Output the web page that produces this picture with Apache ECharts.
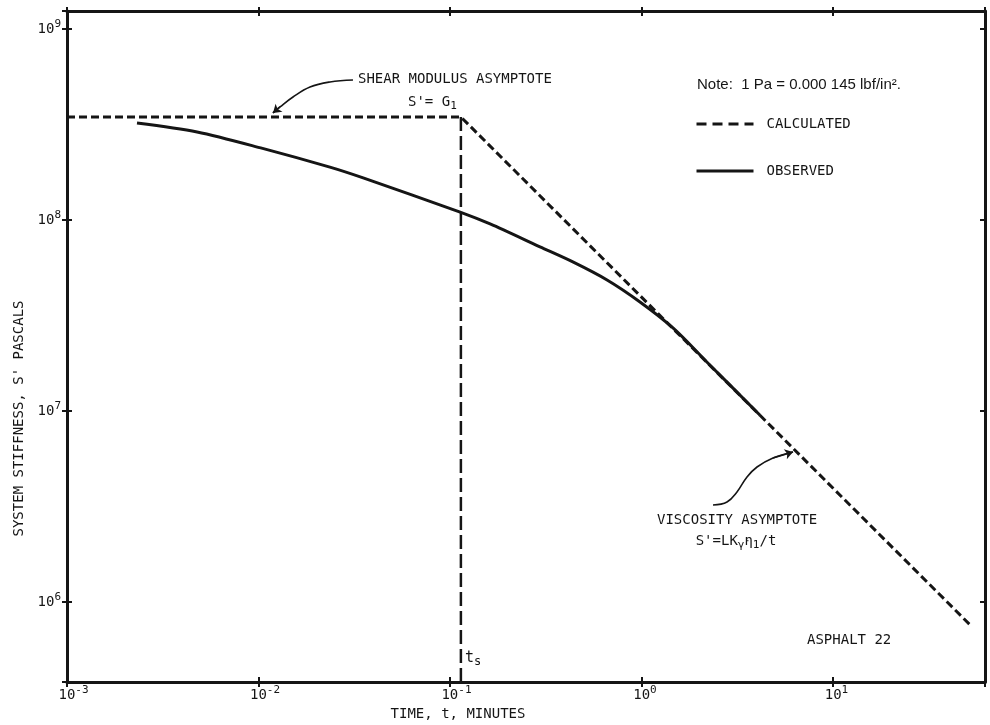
<!DOCTYPE html>
<html><head><meta charset="utf-8">
<script src="https://cdn.jsdelivr.net/npm/echarts@6/dist/echarts.min.js"></script>
<style>html,body{margin:0;padding:0;background:#fff}#c{width:990px;height:725px}</style>
</head><body><div id="c"></div>
<script>
// ---- data ----
const obsTime = [0.00232, 0.00478, 0.0105, 0.0236, 0.0352, 0.113, 0.162, 0.295, 0.438, 0.661, 0.982, 1.46, 2.2, 4.16];
const obsStiff = [3.22e8, 2.89e8, 2.37e8, 1.89e8, 1.66e8, 1.10e8, 9.53e7, 7.23e7, 6.03e7, 4.85e7, 3.72e7, 2.72e7, 1.8e7, 9.5e6];
const calcTime = [0.001, 0.114, 51.9];
const calcStiff = [3.462e8, 3.462e8, 7.6e5];
const tsTime = [0.114, 0.114];
const tsStiff = [3.81e5, 3.462e8];
const shearArrowTime = [0.03114, 0.02362, 0.01857, 0.01514, 0.01295, 0.01190];
const shearArrowStiff = [5.408e8, 5.279e8, 4.970e8, 4.406e8, 3.905e8, 3.633e8];
const viscArrowTime = [2.363, 2.796, 3.153, 3.556, 4.011, 4.860, 6.181];
const viscArrowStiff = [3.220e6, 3.339e6, 3.767e6, 4.513e6, 5.090e6, 5.675e6, 6.100e6];
const xTickExps = [-3, -2, -1, 0, 1];
const yTickExps = [6, 7, 8, 9];
const xRange = [0.001, 62.2];
const yRange = [3.81e5, 1.242e9];

const MONO = '"DejaVu Sans Mono", monospace';
const SANS = '"Liberation Sans", Arial, sans-serif';
const INK = '#151515';

const zip = (a, b) => a.map((v, i) => [v, b[i]]);
function decadeExp(v) {
  const e = Math.log10(v), r = Math.round(e);
  return Math.abs(e - r) < 0.02 ? r : null;
}
const xLabelFmt = v => {
  const n = decadeExp(v);
  if (n === null || xTickExps.indexOf(n) < 0) return '';
  const s = String(n);
  return '{b' + s.length + '|10}{s|' + s + '}';
};
const yLabelFmt = v => {
  const n = decadeExp(v);
  if (n === null || yTickExps.indexOf(n) < 0) return '';
  return '{b|10}{s|' + n + '}';
};
const supRich = {
  b: { fontFamily: MONO, fontSize: 14, lineHeight: 20, color: INK },
  b1: { fontFamily: MONO, fontSize: 14, lineHeight: 20, color: INK, padding: [0, 0, 0, 7] },
  b2: { fontFamily: MONO, fontSize: 14, lineHeight: 20, color: INK, padding: [0, 0, 0, 13] },
  s: { fontFamily: MONO, fontSize: 11, lineHeight: 11, verticalAlign: 'top', color: INK }
};

function logAxis(range, extra) {
  return Object.assign({
    type: 'log', logBase: 10, min: range[0], max: range[1],
    splitLine: { show: false }, minorTick: { show: false },
    axisLine: { show: true, lineStyle: { color: INK, width: 3 } },
    axisTick: { show: true, inside: true, length: 5, lineStyle: { color: INK, width: 2 } },
    axisLabel: { show: false }
  }, extra);
}

const chart = echarts.init(document.getElementById('c'), null, { renderer: 'canvas' });
chart.setOption({
  animation: false,
  backgroundColor: '#ffffff',
  grid: { left: 67, right: 5, top: 11, bottom: 43, containLabel: false, outerBoundsMode: 'none' },
  legend: {
    orient: 'vertical', left: 695, top: 117, padding: 0, itemWidth: 57, itemHeight: 14, itemGap: 33,
    textStyle: { fontFamily: MONO, fontSize: 14, color: INK, padding: [0, 0, 0, 8] },
    itemStyle: { opacity: 0 },
    data: [
      { name: 'CALCULATED', lineStyle: { type: [10, 6], width: 3, color: INK } },
      { name: 'OBSERVED', lineStyle: { width: 3, color: INK } }
    ],
    selectedMode: false
  },
  xAxis: [
    logAxis(xRange, {
      position: 'bottom',
      axisTick: { show: true, inside: false, length: 5, lineStyle: { color: INK, width: 2 } },
      axisLabel: { show: true, formatter: xLabelFmt, rich: supRich, margin: 3, color: INK },
      name: 'TIME, t, MINUTES', nameLocation: 'middle', nameGap: 25,
      nameTextStyle: { fontFamily: MONO, fontSize: 14, color: INK, padding: [0, 136, 0, 0] }
    }),
    logAxis(xRange, { position: 'bottom', axisLine: { show: false } }),
    logAxis(xRange, { position: 'top' }),
    logAxis(xRange, { position: 'top', axisLine: { show: false }, axisTick: { show: true, inside: false, length: 4, lineStyle: { color: INK, width: 2 } } })
  ],
  yAxis: [
    logAxis(yRange, {
      position: 'left',
      axisTick: { show: true, inside: false, length: 5, lineStyle: { color: INK, width: 2 } },
      axisLabel: { show: true, formatter: yLabelFmt, rich: supRich, margin: 6, color: INK },
      name: "SYSTEM STIFFNESS, S' PASCALS", nameLocation: 'middle', nameGap: 39,
      nameTextStyle: { fontFamily: MONO, fontSize: 14, color: INK, padding: [0, 144, 0, 0] }
    }),
    logAxis(yRange, { position: 'left', axisLine: { show: false } }),
    logAxis(yRange, { position: 'right' })
  ],
  series: [
    {
      name: 'CALCULATED', type: 'line', xAxisIndex: 0, yAxisIndex: 0,
      data: zip(calcTime, calcStiff), symbol: 'none', silent: true,
      itemStyle: { color: INK },
      lineStyle: { color: INK, width: 3, type: [8, 4] }
    },
    {
      name: 'OBSERVED', type: 'line', xAxisIndex: 0, yAxisIndex: 0,
      data: zip(obsTime, obsStiff), symbol: 'none', smooth: 0.3, silent: true,
      itemStyle: { color: INK },
      lineStyle: { color: INK, width: 3 }
    },
    {
      name: 'ts', type: 'line', xAxisIndex: 0, yAxisIndex: 0,
      data: zip(tsTime, tsStiff), symbol: 'none', silent: true,
      itemStyle: { color: INK },
      lineStyle: { color: INK, width: 2.5, type: [14, 5] }
    },
    {
      name: 'shearArrow', type: 'line', xAxisIndex: 0, yAxisIndex: 0,
      data: zip(shearArrowTime, shearArrowStiff), symbol: 'none', smooth: 0.4, silent: true,
      itemStyle: { color: INK },
      lineStyle: { color: INK, width: 1.6 },
      markLine: {
        silent: true, symbol: ['none', 'arrow'], symbolSize: 8, label: { show: false },
        itemStyle: { color: INK },
        lineStyle: { color: INK, width: 1.6, type: 'solid' },
        data: [[{ coord: [shearArrowTime[4], shearArrowStiff[4]] }, { coord: [shearArrowTime[5], shearArrowStiff[5]] }]]
      }
    },
    {
      name: 'viscArrow', type: 'line', xAxisIndex: 0, yAxisIndex: 0,
      data: zip(viscArrowTime, viscArrowStiff), symbol: 'none', smooth: 0.4, silent: true,
      itemStyle: { color: INK },
      lineStyle: { color: INK, width: 1.6 },
      markLine: {
        silent: true, symbol: ['none', 'arrow'], symbolSize: 8, label: { show: false },
        itemStyle: { color: INK },
        lineStyle: { color: INK, width: 1.6, type: 'solid' },
        data: [[{ coord: [viscArrowTime[5], viscArrowStiff[5]] }, { coord: [viscArrowTime[6], viscArrowStiff[6]] }]]
      }
    }
  ],
  graphic: [
    { type: 'text', x: 358, y: 79, style: { text: 'SHEAR MODULUS ASYMPTOTE', fontFamily: MONO, fontSize: 14, fill: INK, verticalAlign: 'middle' } },
    { type: 'text', x: 408, y: 102, style: { text: "S'= G{sub|1}", fontFamily: MONO, fontSize: 14, lineHeight: 20, fill: INK, verticalAlign: 'middle',
        rich: { sub: { fontFamily: MONO, fontSize: 11, lineHeight: 12, verticalAlign: 'bottom', fill: INK } } } },
    { type: 'text', x: 697, y: 85, style: { text: 'Note:  1 Pa = 0.000 145 lbf/in².', fontFamily: SANS, fontSize: 15, fill: INK, verticalAlign: 'middle' } },
    { type: 'text', x: 657, y: 520, style: { text: 'VISCOSITY ASYMPTOTE', fontFamily: MONO, fontSize: 14, fill: INK, verticalAlign: 'middle' } },
    { type: 'text', x: 736, y: 541, style: { text: "S'=LK{sub|γ̇}η{sub|1}/t", fontFamily: MONO, fontSize: 14, lineHeight: 20, fill: INK, align: 'center', verticalAlign: 'middle',
        rich: { sub: { fontFamily: MONO, fontSize: 11, lineHeight: 12, verticalAlign: 'bottom', fill: INK } } } },
    { type: 'text', x: 465, y: 658, style: { text: 't{sub|s}', fontFamily: MONO, fontSize: 15, lineHeight: 20, fill: INK, verticalAlign: 'middle',
        rich: { sub: { fontFamily: MONO, fontSize: 12, lineHeight: 12, verticalAlign: 'bottom', fill: INK } } } },
    { type: 'text', x: 807, y: 640, style: { text: 'ASPHALT 22', fontFamily: MONO, fontSize: 14, fill: INK, verticalAlign: 'middle' } }
  ]
});
</script></body></html>
